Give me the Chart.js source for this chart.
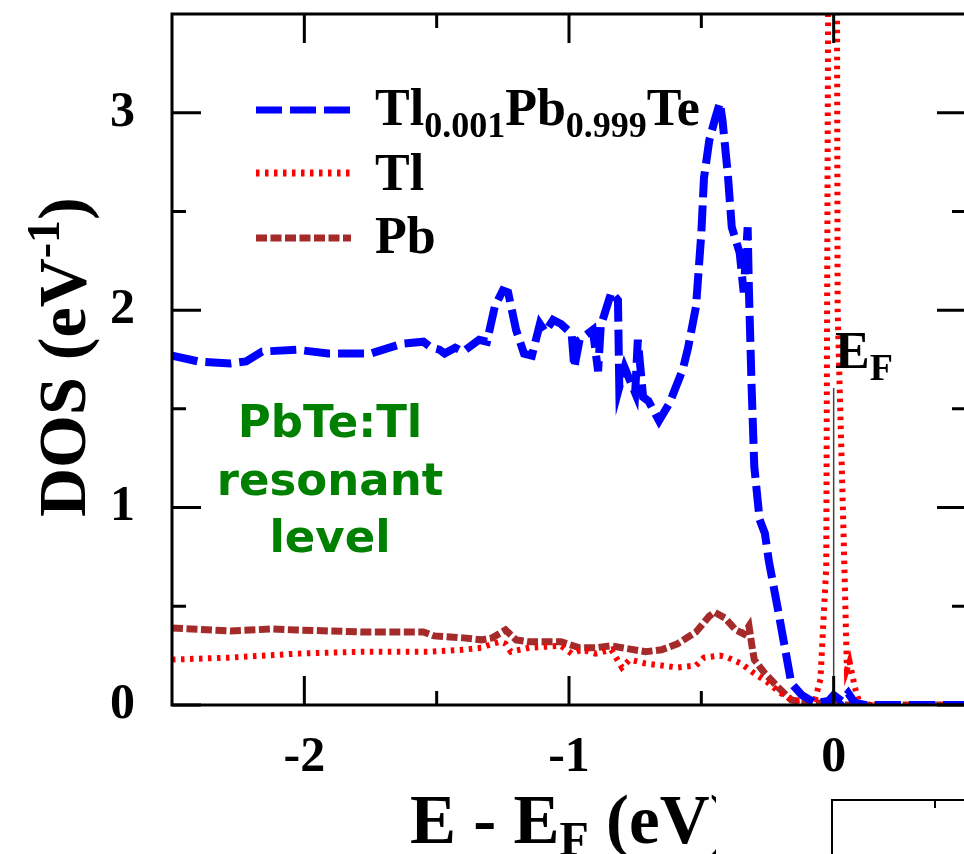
<!DOCTYPE html>
<html>
<head>
<meta charset="utf-8">
<script src="https://cdn.jsdelivr.net/npm/chart.js@4.4.1/dist/chart.umd.min.js"></script>
<style>
  html, body { margin: 0; padding: 0; background: #fff; overflow: hidden; }
  #wrap { width: 964px; height: 854px; overflow: hidden; position: relative; }
</style>
</head>
<body>
<div id="wrap"><canvas id="dosChart" width="968" height="854"></canvas></div>
<script>
// energy (eV) and DOS values
const hostE = [-2.5, -2.4, -2.28, -2.22, -2.16, -2.03, -1.91, -1.75, -1.63, -1.55, -1.52, -1.49, -1.47, -1.43, -1.4,
  -1.34, -1.31, -1.28, -1.25, -1.23, -1.2, -1.17, -1.14, -1.11, -1.09, -1.06, -1.03, -0.99, -0.98, -0.96,
  -0.91, -0.89, -0.88, -0.84, -0.815, -0.81, -0.79, -0.75, -0.74, -0.72, -0.7, -0.66, -0.62, -0.57, -0.55,
  -0.52, -0.5, -0.49, -0.47, -0.45, -0.43, -0.42, -0.4, -0.385, -0.355, -0.34, -0.325, -0.32, -0.31, -0.3,
  -0.28, -0.26, -0.245, -0.21, -0.16, -0.12, -0.07, -0.02, 0.0, 0.03, 0.055, 0.08, 0.12, 0.5];
const hostDos = [1.77, 1.74, 1.73, 1.74, 1.79, 1.8, 1.78, 1.78, 1.83, 1.84, 1.81, 1.8, 1.78, 1.81, 1.79,
  1.85, 1.84, 2.02, 2.1, 2.09, 1.9, 1.78, 1.77, 1.93, 1.89, 1.95, 1.93, 1.88, 1.71, 1.85,
  1.9, 1.69, 1.92, 2.09, 2.05, 1.61, 1.71, 1.58, 1.85, 1.56, 1.54, 1.44, 1.53, 1.7, 1.81,
  2.02, 2.39, 2.67, 2.86, 2.96, 3.05, 2.96, 2.69, 2.42, 2.29, 2.09, 2.42, 2.09, 1.61, 1.21,
  0.94, 0.87, 0.73, 0.48, 0.11, 0.05, 0.01, 0.02, 0.05, 0.02, 0.06, 0.01, 0, 0];

const tlE = [-2.5, -2.28, -2.03, -1.78, -1.53, -1.4, -1.33, -1.29, -1.26, -1.24, -1.22, -1.15, -1.03, -0.99,
  -0.95, -0.9, -0.84, -0.8, -0.77, -0.71, -0.65, -0.59, -0.52, -0.49, -0.43, -0.4, -0.35, -0.3, -0.245,
  -0.2, -0.15, -0.07, -0.05, -0.028, 0.0, 0.015, 0.04, 0.05, 0.06, 0.08, 0.1, 0.5];
const tlDos = [0.23, 0.24, 0.26, 0.27, 0.27, 0.28, 0.29, 0.31, 0.32, 0.31, 0.27, 0.29, 0.3, 0.26,
  0.28, 0.26, 0.28, 0.19, 0.23, 0.21, 0.2, 0.19, 0.2, 0.24, 0.25, 0.24, 0.21, 0.16, 0.11,
  0.06, 0.02, 0.03, 0.13, 0.7, 12, 2.0, 0.73, 0.18, 0.22, 0.09, 0, 0];

const pbE = [-2.5, -2.28, -2.12, -2.03, -1.78, -1.55, -1.51, -1.4, -1.33, -1.29, -1.24, -1.2, -1.15, -1.03,
  -0.96, -0.9, -0.84, -0.8, -0.71, -0.65, -0.59, -0.52, -0.47, -0.45, -0.41, -0.37, -0.34, -0.32, -0.31,
  -0.3, -0.26, -0.21, -0.16, -0.09, 0.0, 0.05, 0.5];
const pbDos = [0.39, 0.375, 0.385, 0.38, 0.37, 0.37, 0.35, 0.34, 0.33, 0.34, 0.38, 0.33, 0.32, 0.32,
  0.29, 0.29, 0.3, 0.29, 0.27, 0.28, 0.31, 0.37, 0.45, 0.47, 0.44, 0.38, 0.36, 0.4, 0.31,
  0.23, 0.16, 0.09, 0.025, 0.01, 0.01, 0, 0];

const xLabelTicks = [-2, -1, 0];
const xMinorTicks = [-1.5, -0.5];
const yLabelTicks = [0, 1, 2, 3];
const yMinorTicks = [0.5, 1.5, 2.5];

const SERIF = '"Liberation Serif", "Times New Roman", serif';

function pairs(xs, ys) {
    return xs.map((x, i) => ({ x: x, y: ys[i] }));
}

const series = [
    { label: 'host', data: pairs(hostE, hostDos), color: '#0000ff', width: 8, dash: [26, 8] },
    { label: 'Tl', data: pairs(tlE, tlDos), color: '#ff0000', width: 6, dash: [3.5, 5.5] },
    { label: 'Pb', data: pairs(pbE, pbDos), color: '#a52a2a', width: 7, dash: [11, 3.5] }
];

// draw text with sub/superscript pieces: [text, size, dy]
function drawRich(ctx, x, y, parts) {
    let cx = x;
    parts.forEach(p => {
        ctx.font = 'bold ' + p[1] + 'px ' + SERIF;
        ctx.fillText(p[0], cx, y + p[2]);
        cx += ctx.measureText(p[0]).width;
    });
}

const decor = {
    id: 'decor',
    afterDraw(chart) {
        const ctx = chart.ctx;
        const xs = chart.scales.x, ys = chart.scales.y;
        const a = chart.chartArea;
        ctx.save();

        // E_F marker line
        ctx.strokeStyle = '#444';
        ctx.lineWidth = 1.5;
        ctx.beginPath();
        ctx.moveTo(xs.getPixelForValue(0), 388);
        ctx.lineTo(xs.getPixelForValue(0), a.bottom);
        ctx.stroke();

        // frame
        ctx.strokeStyle = '#000';
        ctx.lineWidth = 3;
        ctx.strokeRect(a.left, a.top, a.right - a.left, a.bottom - a.top);

        // inward ticks on all four sides
        ctx.beginPath();
        const xtick = (vals, len) => {
            vals.forEach(v => {
                const px = xs.getPixelForValue(v);
                ctx.moveTo(px, a.bottom); ctx.lineTo(px, a.bottom - len);
                ctx.moveTo(px, a.top); ctx.lineTo(px, a.top + len);
            });
        };
        const ytick = (vals, len) => {
            vals.forEach(v => {
                const py = ys.getPixelForValue(v);
                ctx.moveTo(a.left, py); ctx.lineTo(a.left + len, py);
                ctx.moveTo(a.right, py); ctx.lineTo(a.right - len, py);
            });
        };
        xtick(xLabelTicks, 29);
        xtick(xMinorTicks, 14);
        ytick(yLabelTicks, 29);
        ytick(yMinorTicks, 14);
        ctx.stroke();

        // legend
        const legendY = [110, 173, 238];
        series.forEach((s, i) => {
            ctx.strokeStyle = s.color;
            ctx.lineWidth = 7;
            ctx.setLineDash(s.dash);
            ctx.beginPath();
            ctx.moveTo(256, legendY[i]);
            ctx.lineTo(351, legendY[i]);
            ctx.stroke();
        });
        ctx.setLineDash([]);
        ctx.fillStyle = '#000';
        ctx.textAlign = 'left';
        ctx.textBaseline = 'alphabetic';
        drawRich(ctx, 375, 125, [['Tl', 52, 0], ['0.001', 36, 12], ['Pb', 52, 0], ['0.999', 36, 12], ['Te', 52, 0]]);
        drawRich(ctx, 375, 190, [['Tl', 52, 0]]);
        drawRich(ctx, 375, 253, [['Pb', 52, 0]]);

        // E_F label
        drawRich(ctx, 835, 368, [['E', 52, 0], ['F', 38, 12]]);

        // green annotation
        ctx.fillStyle = '#008000';
        ctx.textAlign = 'center';
        ctx.font = 'bold 45px "DejaVu Sans", sans-serif';
        ctx.fillText('PbTe:Tl', 330, 437);
        ctx.fillText('resonant', 330, 495);
        ctx.fillText('level', 330, 552);

        // axis titles
        ctx.fillStyle = '#000';
        ctx.textAlign = 'left';
        ctx.save();
        ctx.beginPath();
        ctx.rect(0, 720, 716, 134);
        ctx.clip();
        drawRich(ctx, 410, 843, [['E - E', 69, 0], ['F', 48, 12], [' (eV)', 69, 0]]);
        ctx.restore();

        ctx.save();
        ctx.translate(85, 517);
        ctx.rotate(-Math.PI / 2);
        drawRich(ctx, 0, 0, [['DOS (eV', 68, 0], ['-1', 46, -26], [')', 68, 0]]);
        ctx.restore();

        // corner of the neighbouring panel
        ctx.strokeStyle = '#000';
        ctx.lineWidth = 2;
        ctx.beginPath();
        ctx.moveTo(832, 854);
        ctx.lineTo(832, 800);
        ctx.lineTo(968, 800);
        ctx.moveTo(935, 800);
        ctx.lineTo(935, 808);
        ctx.stroke();

        ctx.restore();
    }
};

const tickFont = { family: SERIF, size: 50, weight: 'bold' };

function noPad(scale) {
    scale.paddingTop = 0;
    scale.paddingBottom = 0;
    scale.paddingLeft = 0;
    scale.paddingRight = 0;
}

new Chart(document.getElementById('dosChart').getContext('2d'), {
    type: 'line',
    data: {
        datasets: series.map(s => ({
            label: s.label,
            data: s.data,
            borderColor: s.color,
            borderWidth: s.width,
            borderDash: s.dash,
            borderCapStyle: 'butt',
            pointRadius: 0,
            tension: 0,
            fill: false
        }))
    },
    options: {
        responsive: false,
        animation: false,
        layout: { padding: { top: 14, right: 2, left: 0, bottom: 0 } },
        plugins: { legend: { display: false }, tooltip: { enabled: false } },
        scales: {
            x: {
                type: 'linear',
                min: -2.5,
                max: 0.5,
                afterBuildTicks: scale => { scale.ticks = xLabelTicks.map(v => ({ value: v })); },
                afterFit: scale => { scale.height = 149; noPad(scale); },
                grid: { display: false, drawTicks: false },
                border: { display: false },
                ticks: { font: tickFont, color: '#000', padding: 23, maxRotation: 0, callback: v => String(v) }
            },
            y: {
                min: 0,
                max: 3.5,
                afterBuildTicks: scale => { scale.ticks = yLabelTicks.map(v => ({ value: v })); },
                afterFit: scale => { scale.width = 172; noPad(scale); },
                grid: { display: false, drawTicks: false },
                border: { display: false },
                ticks: { font: tickFont, color: '#000', padding: 37, callback: v => String(v) }
            }
        }
    },
    plugins: [decor]
});
</script>
</body>
</html>
